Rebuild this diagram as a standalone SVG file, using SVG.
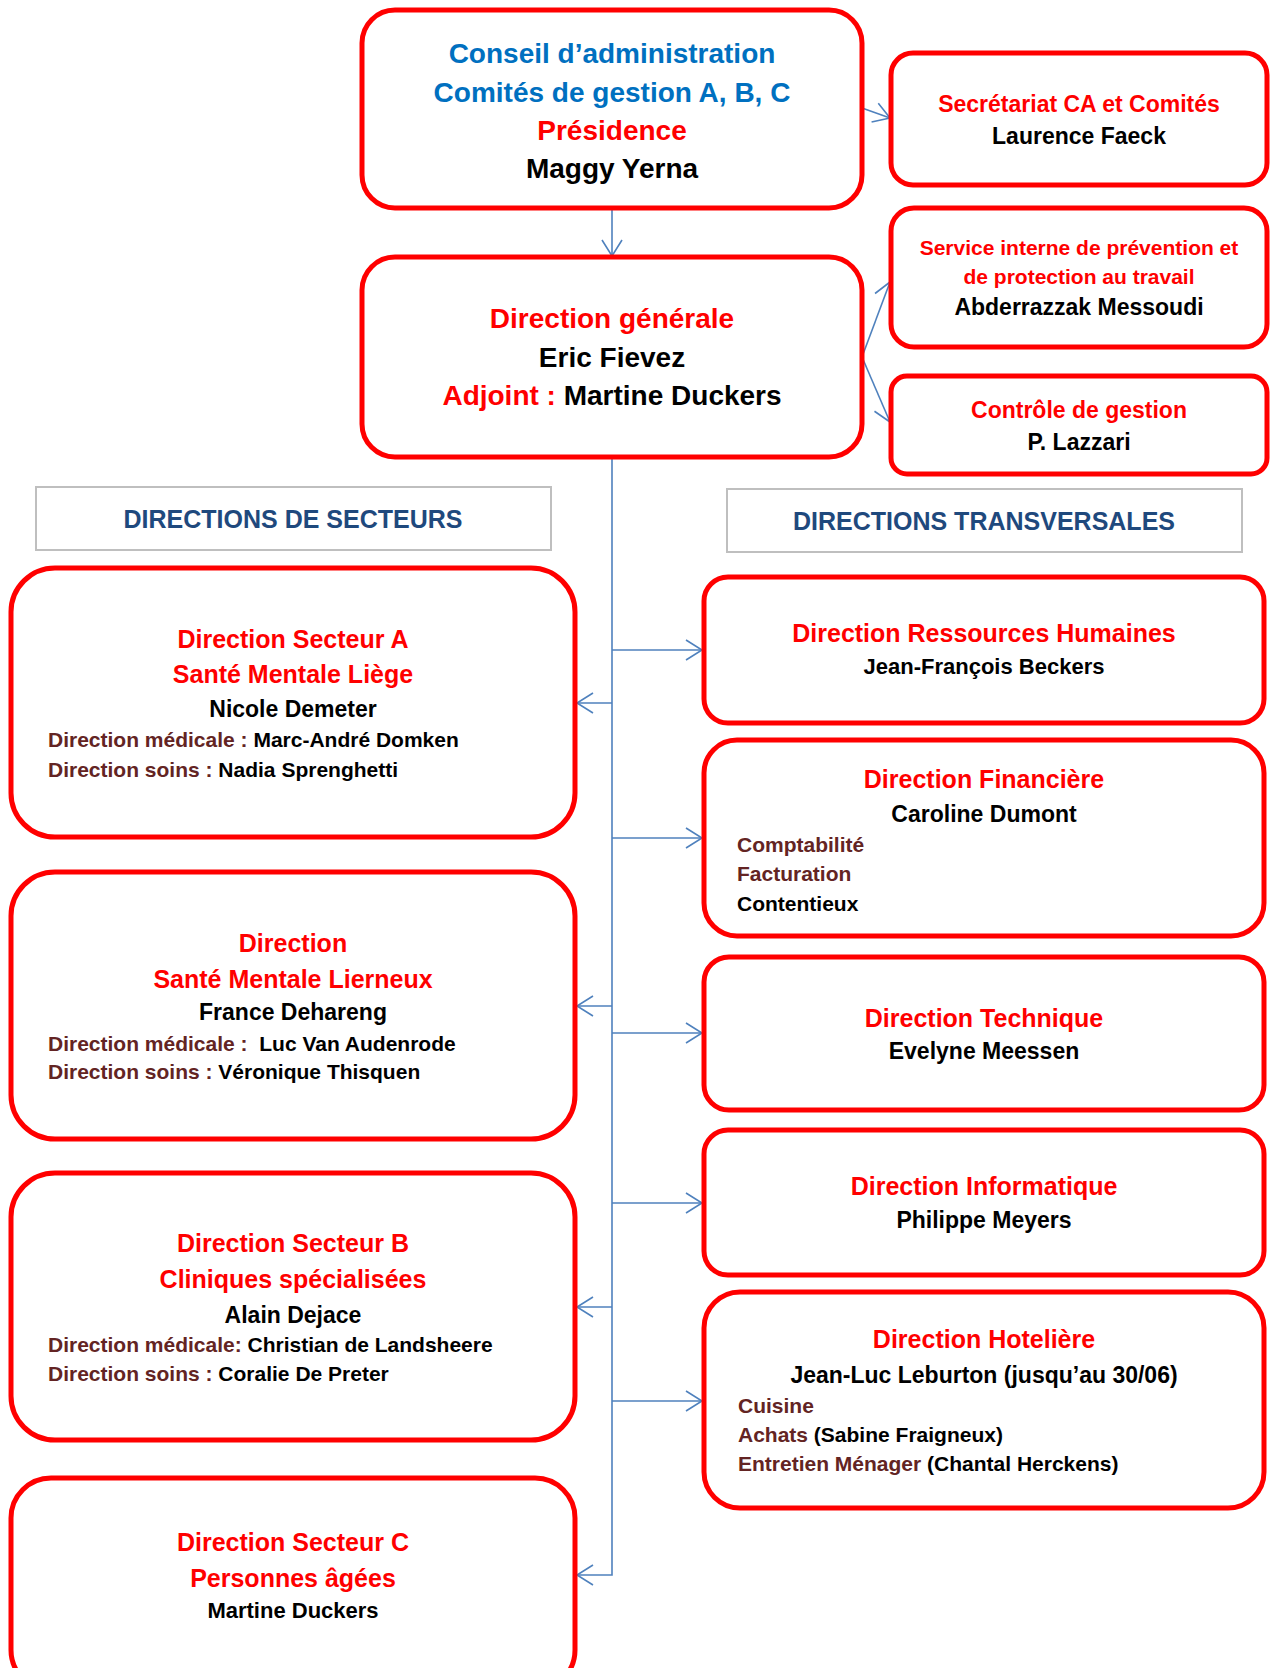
<svg xmlns="http://www.w3.org/2000/svg" width="1271" height="1668" viewBox="0 0 1271 1668">
<style>
.box{fill:#fff;stroke:#FF0000;stroke-width:5}
.hdr{fill:#fff;stroke:#BFBFBF;stroke-width:2}
text{font-family:"Liberation Sans",Arial,sans-serif;font-weight:bold}
.c{text-anchor:middle}
.red{fill:#FF0000}.blk{fill:#000}.blue{fill:#0070C0}.navy{fill:#1F497D}.brn{fill:#632423}
.f28{font-size:28px}.f25{font-size:25px}.f23{font-size:23px}.f22{font-size:22px}.f21{font-size:21px}
.conn{stroke:#4F81BD;stroke-width:1.6;fill:none}
</style>
<defs>
<marker id="arr" markerUnits="userSpaceOnUse" markerWidth="22" markerHeight="24" refX="18" refY="12" orient="auto">
<path d="M2,2 L18,12 L2,22" fill="none" stroke="#4F81BD" stroke-width="1.6"/>
</marker>
</defs>
<rect width="1271" height="1668" fill="#fff"/>

<g id="connectors">
<line class="conn" x1="862" y1="108" x2="890" y2="118" marker-end="url(#arr)"/>
<line class="conn" x1="612" y1="208" x2="612" y2="256" marker-end="url(#arr)"/>
<line class="conn" x1="862" y1="357" x2="890" y2="282" marker-end="url(#arr)"/>
<line class="conn" x1="862" y1="357" x2="890" y2="422" marker-end="url(#arr)"/>
<polyline class="conn" points="612,457 612,1575 577,1575" marker-end="url(#arr)"/>
<line class="conn" x1="612" y1="703" x2="577" y2="703" marker-end="url(#arr)"/>
<line class="conn" x1="612" y1="1006" x2="577" y2="1006" marker-end="url(#arr)"/>
<line class="conn" x1="612" y1="1307" x2="577" y2="1307" marker-end="url(#arr)"/>
<line class="conn" x1="612" y1="650" x2="702" y2="650" marker-end="url(#arr)"/>
<line class="conn" x1="612" y1="838" x2="702" y2="838" marker-end="url(#arr)"/>
<line class="conn" x1="612" y1="1033" x2="702" y2="1033" marker-end="url(#arr)"/>
<line class="conn" x1="612" y1="1203" x2="702" y2="1203" marker-end="url(#arr)"/>
<line class="conn" x1="612" y1="1401" x2="702" y2="1401" marker-end="url(#arr)"/>
</g>

<g id="conseil">
<rect class="box" x="362" y="10" width="500" height="198" rx="33"/>
<text class="c f28 blue" x="612" y="63">Conseil d’administration</text>
<text class="c f28 blue" x="612" y="102">Comités de gestion A, B, C</text>
<text class="c f28 red" x="612" y="140">Présidence</text>
<text class="c f28 blk" x="612" y="178">Maggy Yerna</text>
</g>

<g id="secretariat">
<rect class="box" x="891" y="53" width="376" height="132" rx="22"/>
<text class="c f23 red" x="1079" y="112">Secrétariat CA et Comités</text>
<text class="c f23 blk" x="1079" y="144">Laurence Faeck</text>
</g>

<g id="direction-generale">
<rect class="box" x="362" y="257" width="500" height="200" rx="33"/>
<text class="c f28 red" x="612" y="328">Direction générale</text>
<text class="c f28 blk" x="612" y="367">Eric Fievez</text>
<text class="c f28 blk" x="612" y="405"><tspan class="red">Adjoint : </tspan>Martine Duckers</text>
</g>

<g id="service-prevention">
<rect class="box" x="891" y="208" width="376" height="139" rx="23"/>
<text class="c f21 red" x="1079" y="255">Service interne de prévention et</text>
<text class="c f21 red" x="1079" y="284">de protection au travail</text>
<text class="c f23 blk" x="1079" y="315">Abderrazzak Messoudi</text>
</g>

<g id="controle-gestion">
<rect class="box" x="891" y="376" width="376" height="98" rx="16"/>
<text class="c f23 red" x="1079" y="418">Contrôle de gestion</text>
<text class="c f23 blk" x="1079" y="450">P. Lazzari</text>
</g>

<g id="hdr-secteurs">
<rect class="hdr" x="36" y="487" width="515" height="63"/>
<text class="c f25 navy" x="293" y="528">DIRECTIONS DE SECTEURS</text>
</g>

<g id="hdr-transversales">
<rect class="hdr" x="727" y="489" width="515" height="63"/>
<text class="c f25 navy" x="984" y="530">DIRECTIONS TRANSVERSALES</text>
</g>

<g id="secteur-a">
<rect class="box" x="11" y="568" width="564" height="269" rx="44"/>
<text class="c f25 red" x="293" y="648">Direction Secteur A</text>
<text class="c f25 red" x="293" y="683">Santé Mentale Liège</text>
<text class="c f23 blk" x="293" y="717">Nicole Demeter</text>
<text class="f21 blk" x="48" y="747"><tspan class="brn">Direction médicale : </tspan>Marc-André Domken</text>
<text class="f21 blk" x="48" y="777"><tspan class="brn">Direction soins : </tspan>Nadia Sprenghetti</text>
</g>

<g id="lierneux">
<rect class="box" x="11" y="872" width="564" height="267" rx="44"/>
<text class="c f25 red" x="293" y="952">Direction</text>
<text class="c f25 red" x="293" y="988">Santé Mentale Lierneux</text>
<text class="c f23 blk" x="293" y="1020">France Dehareng</text>
<text class="f21 blk" x="48" y="1051" xml:space="preserve"><tspan class="brn">Direction médicale :</tspan>  Luc Van Audenrode</text>
<text class="f21 blk" x="48" y="1079"><tspan class="brn">Direction soins : </tspan>Véronique Thisquen</text>
</g>

<g id="secteur-b">
<rect class="box" x="11" y="1173" width="564" height="267" rx="44"/>
<text class="c f25 red" x="293" y="1252">Direction Secteur B</text>
<text class="c f25 red" x="293" y="1288">Cliniques spécialisées</text>
<text class="c f23 blk" x="293" y="1323">Alain Dejace</text>
<text class="f21 blk" x="48" y="1352"><tspan class="brn">Direction médicale: </tspan>Christian de Landsheere</text>
<text class="f21 blk" x="48" y="1381"><tspan class="brn">Direction soins : </tspan>Coralie De Preter</text>
</g>

<g id="secteur-c">
<rect class="box" x="11" y="1478" width="564" height="212" rx="40"/>
<text class="c f25 red" x="293" y="1551">Direction Secteur C</text>
<text class="c f25 red" x="293" y="1587">Personnes âgées</text>
<text class="c f22 blk" x="293" y="1618">Martine Duckers</text>
</g>

<g id="rh">
<rect class="box" x="704" y="577" width="560" height="146" rx="24"/>
<text class="c f25 red" x="984" y="642">Direction Ressources Humaines</text>
<text class="c f22 blk" x="984" y="674">Jean-François Beckers</text>
</g>

<g id="financiere">
<rect class="box" x="704" y="740" width="560" height="196" rx="33"/>
<text class="c f25 red" x="984" y="788">Direction Financière</text>
<text class="c f23 blk" x="984" y="822">Caroline Dumont</text>
<text class="f21 brn" x="737" y="852">Comptabilité</text>
<text class="f21 brn" x="737" y="881">Facturation</text>
<text class="f21 blk" x="737" y="911">Contentieux</text>
</g>

<g id="technique">
<rect class="box" x="704" y="957" width="560" height="153" rx="25"/>
<text class="c f25 red" x="984" y="1027">Direction Technique</text>
<text class="c f23 blk" x="984" y="1059">Evelyne Meessen</text>
</g>

<g id="informatique">
<rect class="box" x="704" y="1130" width="560" height="145" rx="24"/>
<text class="c f25 red" x="984" y="1195">Direction Informatique</text>
<text class="c f23 blk" x="984" y="1228">Philippe Meyers</text>
</g>

<g id="hoteliere">
<rect class="box" x="704" y="1292" width="560" height="216" rx="36"/>
<text class="c f25 red" x="984" y="1348">Direction Hotelière</text>
<text class="c f23 blk" x="984" y="1383">Jean-Luc Leburton (jusqu’au 30/06)</text>
<text class="f21 brn" x="738" y="1413">Cuisine</text>
<text class="f21 blk" x="738" y="1442"><tspan class="brn">Achats</tspan> (Sabine Fraigneux)</text>
<text class="f21 blk" x="738" y="1471"><tspan class="brn">Entretien Ménager</tspan> (Chantal Herckens)</text>
</g>
</svg>
